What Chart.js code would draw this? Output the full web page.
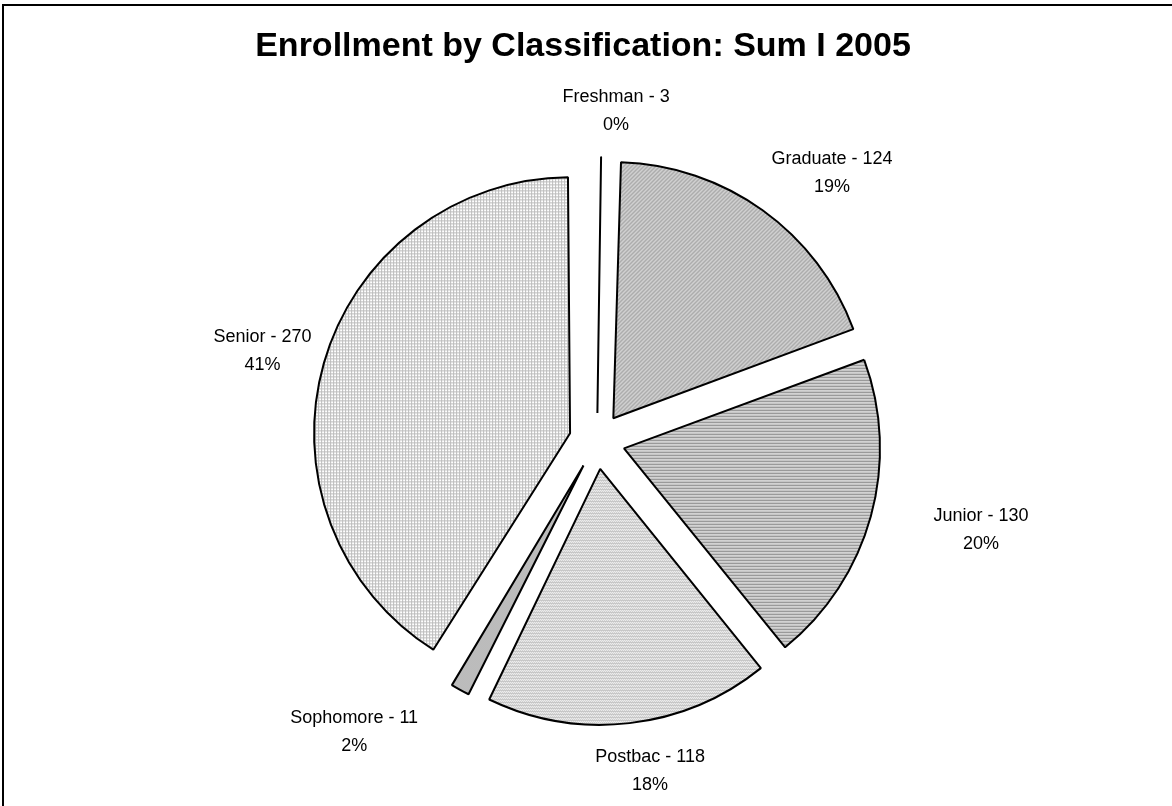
<!DOCTYPE html>
<html>
<head>
<meta charset="utf-8">
<script src="https://cdn.jsdelivr.net/npm/chart.js@4.4.1/dist/chart.umd.min.js"></script>
<style>
  html, body { margin: 0; padding: 0; background: #fff; overflow: hidden; }
  #wrap { position: absolute; left: 0; top: 0; width: 1172px; height: 806px; }
  #frame { position: absolute; left: 2px; top: 4px; width: 1300px; height: 1000px;
           border-left: 2px solid #000; border-top: 2px solid #000; pointer-events: none; }
</style>
</head>
<body>
<div id="wrap">
  <canvas id="pieChart" width="1172" height="806"></canvas>
  <div id="frame"></div>
</div>
<script>
// ================= DATA =================
const chartTitle = "Enrollment by Classification: Sum I 2005";
const categories = ["Freshman", "Graduate", "Junior", "Postbac", "Sophomore", "Senior"];
const enrollment = [3, 124, 130, 118, 11, 270];

// label fine-tuning (Excel places outside labels a bit irregularly)
const labelNudgeX = [14, 23, 46, 12, -66, 4];

const RADIUS = 256;
const EXPLODE = 28;     // px each slice is pulled out
const LABEL_GAP = 19;
const LINE_H = 28;
const total = enrollment.reduce((a, b) => a + b, 0);
const percents = enrollment.map(v => Math.round(v / total * 100) + "%");

// ================= PATTERNS =================
function makePattern(w, h, paint) {
  const c = document.createElement("canvas");
  c.width = w; c.height = h;
  const g = c.getContext("2d");
  paint(g);
  return document.createElement("canvas").getContext("2d").createPattern(c, "repeat");
}

function px(g, color, pts) {
  g.fillStyle = color;
  pts.forEach(p => g.fillRect(p[0], p[1], 1, 1));
}

const fills = [
  // Freshman: dark dotted
  makePattern(2, 2, g => {
    g.fillStyle = "#555555"; g.fillRect(0, 0, 2, 2);
    px(g, "#808080", [[0, 0], [1, 1]]);
  }),
  // Graduate: fine diagonal "/"
  makePattern(4, 4, g => {
    g.fillStyle = "#d6d6d6"; g.fillRect(0, 0, 4, 4);
    px(g, "#a8a8a8", [[3, 0], [2, 1], [1, 2], [0, 3], [0, 0], [3, 1], [2, 2], [1, 3]]);
  }),
  // Junior: horizontal lines
  makePattern(3, 3, g => {
    g.fillStyle = "#ffffff"; g.fillRect(0, 0, 3, 3);
    g.fillStyle = "#9a9a9a"; g.fillRect(0, 0, 3, 2);
  }),
  // Postbac: light fine weave
  makePattern(4, 3, g => {
    g.fillStyle = "#ffffff"; g.fillRect(0, 0, 4, 3);
    px(g, "#c4c4c4", [[0, 0], [2, 0], [1, 1], [3, 1], [0, 2], [1, 2], [2, 2], [3, 2]]);
  }),
  // Sophomore: medium dotted
  makePattern(2, 2, g => {
    g.fillStyle = "#d8d8d8"; g.fillRect(0, 0, 2, 2);
    px(g, "#a0a0a0", [[0, 0], [1, 1]]);
  }),
  // Senior: light grid
  makePattern(3, 3, g => {
    g.fillStyle = "#ffffff"; g.fillRect(0, 0, 3, 3);
    g.fillStyle = "#bcbcbc"; g.fillRect(0, 0, 3, 1); g.fillRect(0, 0, 1, 3);
  })
];

// ================= PLUGINS =================
// Chart.js grows the radius of an offset arc by (offset/4)*(1 - sin(circ)),
// undo that so every exploded slice keeps the same radius like in Excel
const evenExplodePlugin = {
  id: "evenExplode",
  afterDatasetsUpdate(chart) {
    chart.getDatasetMeta(0).data.forEach(arc => {
      const off = (arc.options.offset || 0) / 4;
      const fix = 1 - Math.sin(Math.min(Math.PI, arc.circumference || 0));
      arc.outerRadius = RADIUS - off * fix;
    });
  }
};

const titlePlugin = {
  id: "excelTitle",
  afterDraw(chart) {
    const ctx = chart.ctx;
    ctx.save();
    ctx.font = "bold 34px 'Liberation Sans', Arial, sans-serif";
    ctx.fillStyle = "#000";
    ctx.textAlign = "center";
    ctx.textBaseline = "middle";
    ctx.fillText(chartTitle, 583, 47);
    ctx.restore();
  }
};

const labelPlugin = {
  id: "sliceLabels",
  afterDatasetsDraw(chart) {
    const ctx = chart.ctx;
    const meta = chart.getDatasetMeta(0);
    ctx.save();
    ctx.font = "18px 'Liberation Sans', Arial, sans-serif";
    ctx.fillStyle = "#000";
    ctx.textAlign = "center";
    ctx.textBaseline = "middle";
    meta.data.forEach((arc, i) => {
      const mid = (arc.startAngle + arc.endAngle) / 2;
      const dx = Math.cos(mid), dy = Math.sin(mid);
      const lines = [categories[i] + " - " + enrollment[i], percents[i]];
      const w = Math.max(...lines.map(l => ctx.measureText(l).width));
      const h = LINE_H * lines.length;
      const dist = RADIUS + EXPLODE + LABEL_GAP;
      const cx = arc.x + dx * (dist + w / 2) + labelNudgeX[i];
      const cy = arc.y + dy * (dist + h / 2) + 1;
      lines.forEach((l, k) => ctx.fillText(l, cx, cy + (k - 0.5) * LINE_H));
    });
    ctx.restore();
  }
};

// ================= PIE CHART =================
function loadPieChart() {
  const ctx = document.getElementById("pieChart");
  new Chart(ctx, {
    type: "pie",
    data: {
      labels: categories,
      datasets: [
        {
          data: enrollment,
          backgroundColor: fills,
          borderColor: "#000",
          borderWidth: 2,
          offset: EXPLODE * 4   // arcs are translated by offset / 4
        }
      ]
    },
    options: {
      responsive: false,
      animation: false,
      radius: RADIUS,
      layout: { padding: { left: 22, right: 0, top: 76, bottom: 0 } },
      plugins: {
        legend: { display: false },
        tooltip: { enabled: false },
        title: { display: false }
      }
    },
    plugins: [evenExplodePlugin, labelPlugin, titlePlugin]
  });
}

window.onload = () => {
  loadPieChart();
};
</script>
</body>
</html>
